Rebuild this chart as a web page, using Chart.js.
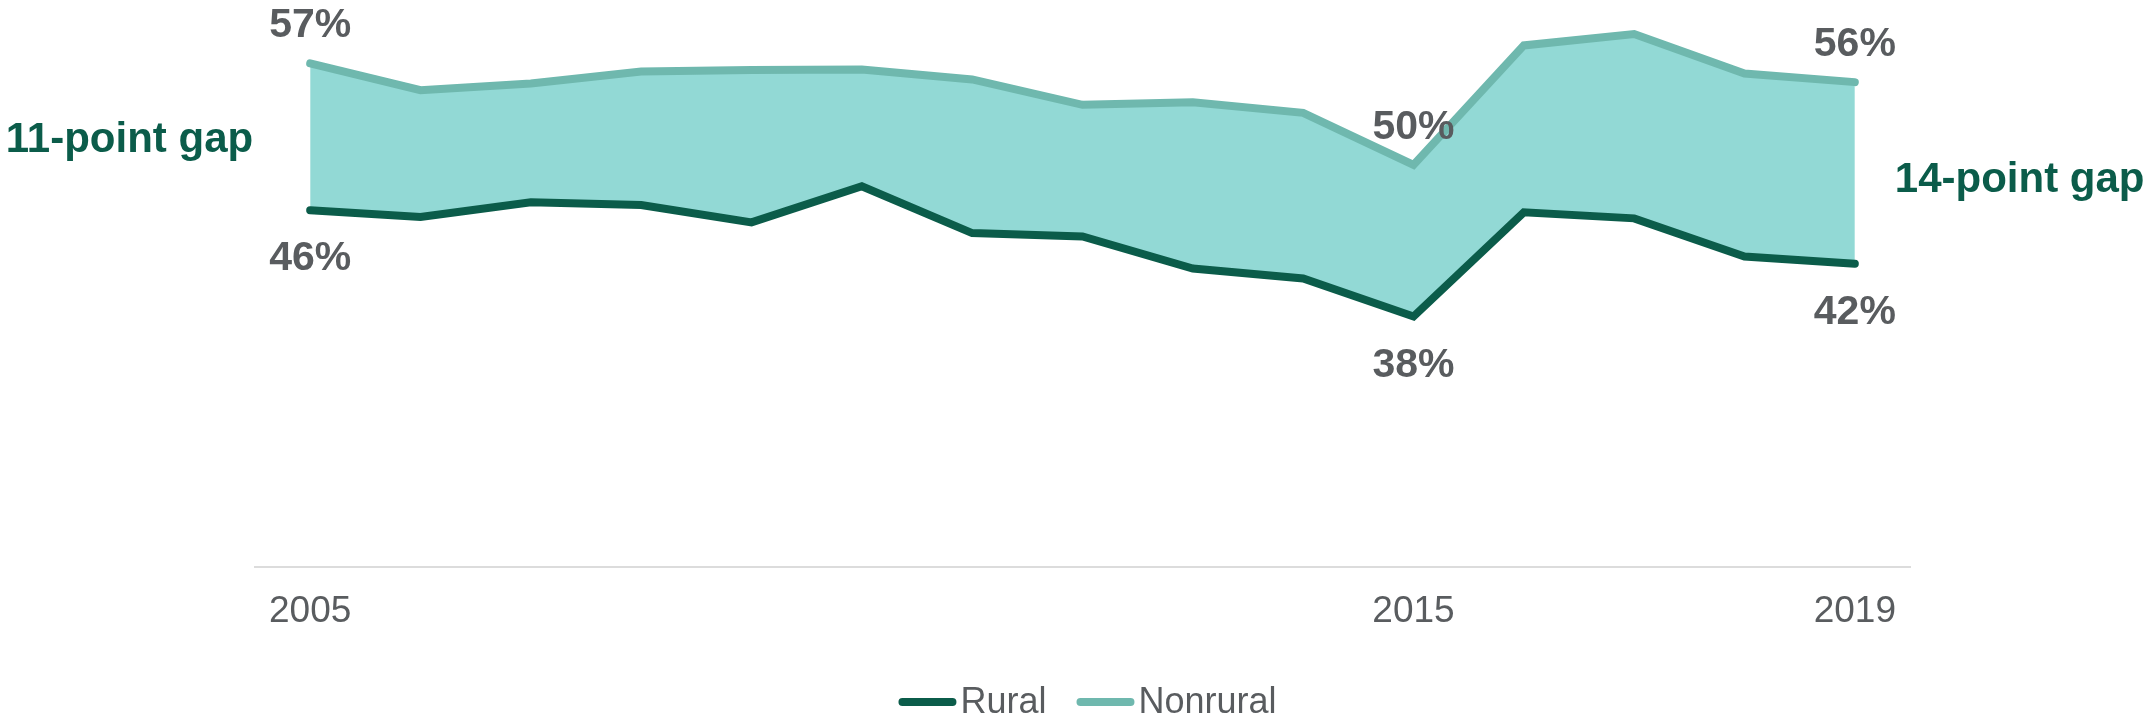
<!DOCTYPE html>
<html>
<head>
<meta charset="utf-8">
<title>Rural vs nonrural</title>
<script src="https://cdn.jsdelivr.net/npm/chart.js@4.4.1/dist/chart.umd.min.js"></script>
<style>
  html, body { margin: 0; padding: 0; background: #ffffff; }
  #chart { display: block; }
</style>
</head>
<body>
<canvas id="chart" width="2146" height="720"></canvas>
<script>
// --- dados ---
const years = ['2005', '2006', '2007', '2008', '2009', '2010', '2011', '2012',
               '2013', '2014', '2015', '2016', '2017', '2018', '2019'];
const rural = [46.0, 45.5, 46.6, 46.4, 45.1, 47.8, 44.3, 44.05,
               41.65, 40.9, 38.05, 45.85, 45.4, 42.55, 42.0];
const nonrural = [57.0, 55.0, 55.5, 56.4, 56.5, 56.55, 55.8, 53.9,
                  54.1, 53.3, 49.4, 58.35, 59.2, 56.25, 55.6];

const tickYears = ['2005', '2015', '2019'];
const labelIndexes = [0, 10, 14];
const ruralLabels = ['46%', '38%', '42%'];
const nonruralLabels = ['57%', '50%', '56%'];
const gapLabels = ['11-point gap', '14-point gap'];

// --- cores e fontes ---
const DARK_GREEN = '#0b5c4a';
const TEAL_LINE = '#6fb8ae';
const TEAL_FILL = '#92d9d5';
const GREY_TEXT = '#595c5f';
const FONT = '"Liberation Sans", Arial, Helvetica, sans-serif';

// Rótulos de valor e de diferença, posicionados pelas escalas
const annotationPlugin = {
    id: 'annotations',
    afterDatasetsDraw(chart) {
        const { ctx, scales: { x, y } } = chart;
        ctx.save();
        ctx.textBaseline = 'alphabetic';
        ctx.textAlign = 'center';
        ctx.font = `bold 41px ${FONT}`;
        ctx.fillStyle = GREY_TEXT;

        labelIndexes.forEach((idx, i) => {
            const px = x.getPixelForValue(idx);
            ctx.fillText(nonruralLabels[i], px, y.getPixelForValue(nonrural[idx]) - 26);
            ctx.fillText(ruralLabels[i], px, y.getPixelForValue(rural[idx]) + 60);
        });

        // "x-point gap" nas duas pontas
        ctx.font = `bold 42px ${FONT}`;
        ctx.fillStyle = DARK_GREEN;
        const first = 0;
        const last = years.length - 1;
        const midFirst = (y.getPixelForValue(nonrural[first]) + y.getPixelForValue(rural[first])) / 2;
        const midLast = (y.getPixelForValue(nonrural[last]) + y.getPixelForValue(rural[last])) / 2;

        ctx.textAlign = 'right';
        ctx.fillText(gapLabels[0], x.getPixelForValue(first) - 57, midFirst + 15);
        ctx.textAlign = 'left';
        ctx.fillText(gapLabels[1], x.getPixelForValue(last) + 40, midLast + 19);
        ctx.restore();
    }
};

// Legenda desenhada à mão (linha grossa colada ao texto)
const legendPlugin = {
    id: 'lineLegend',
    afterDraw(chart) {
        const { ctx, chartArea } = chart;
        const lineW = 58, gapText = 4, itemGap = 30, lineY = 702, textY = 713;
        ctx.save();
        ctx.font = `36px ${FONT}`;
        const items = chart.data.datasets.map(ds => ({
            text: ds.label,
            color: ds.borderColor,
            w: lineW + gapText + ctx.measureText(ds.label).width
        }));
        const total = items.reduce((s, it) => s + it.w, 0) + itemGap * (items.length - 1);
        let cx = (chartArea.left + chartArea.right) / 2 - total / 2 + 5;

        items.forEach(it => {
            ctx.strokeStyle = it.color;
            ctx.lineWidth = 8;
            ctx.lineCap = 'round';
            ctx.beginPath();
            ctx.moveTo(cx + 4, lineY);
            ctx.lineTo(cx + lineW - 4, lineY);
            ctx.stroke();

            ctx.fillStyle = GREY_TEXT;
            ctx.textAlign = 'left';
            ctx.textBaseline = 'alphabetic';
            ctx.fillText(it.text, cx + lineW + gapText, textY);
            cx += it.w + itemGap;
        });
        ctx.restore();
    }
};

const ctx = document.getElementById('chart').getContext('2d');

new Chart(ctx, {
    type: 'line',
    data: {
        labels: years,
        datasets: [
            {
                label: 'Rural',
                data: rural,
                borderColor: DARK_GREEN,
                backgroundColor: DARK_GREEN,
                borderWidth: 8,
                fill: false
            },
            {
                label: 'Nonrural',
                data: nonrural,
                borderColor: TEAL_LINE,
                backgroundColor: TEAL_FILL,
                borderWidth: 8,
                fill: '-1'
            }
        ]
    },
    options: {
        responsive: false,
        devicePixelRatio: 1,
        animation: false,
        layout: {
            padding: { left: 255, right: 236, top: 6, bottom: 62.6 }
        },
        elements: {
            line: { tension: 0, borderCapStyle: 'round', borderJoinStyle: 'miter' },
            point: { radius: 0, hoverRadius: 0 }
        },
        plugins: {
            legend: { display: false },
            tooltip: { enabled: false }
        },
        scales: {
            x: {
                offset: true,
                grid: { display: false, drawTicks: false },
                border: { display: true, color: '#dcdcdc', width: 2 },
                ticks: {
                    autoSkip: false,
                    maxRotation: 0,
                    padding: 23,
                    color: GREY_TEXT,
                    font: { family: FONT, size: 37 },
                    callback: function (value) {
                        const year = this.getLabelForValue(value);
                        return tickYears.includes(year) ? year : '';
                    }
                }
            },
            y: {
                display: false,
                min: 19.3,
                max: 61.3
            }
        }
    },
    plugins: [annotationPlugin, legendPlugin]
});
</script>
</body>
</html>
